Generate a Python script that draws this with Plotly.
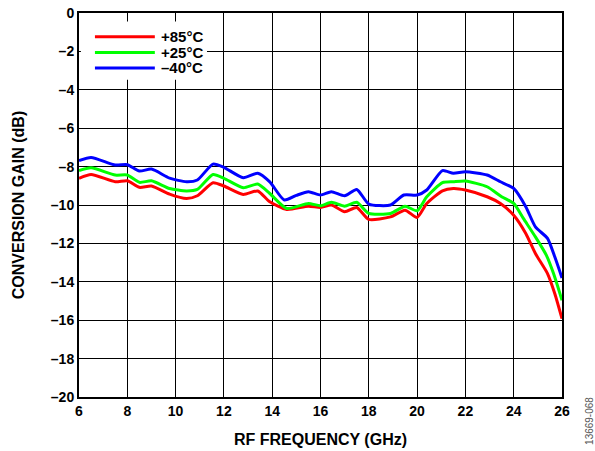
import plotly.graph_objects as go

freq_blue = [6, 6.5, 7.5, 8, 8.5, 9, 9.75, 10.45, 10.9, 11.55, 12, 12.8, 13.4, 13.9, 14.5, 15.0, 15.5, 16, 16.45, 17, 17.5, 18, 18.9, 19.45, 20, 20.4, 21.05, 21.5, 22, 22.9, 23.45, 24, 24.5, 24.9, 25.4, 25.7, 26]
gain_m40 = [-7.69, -7.52, -7.92, -7.9, -8.23, -8.13, -8.6, -8.79, -8.7, -7.87, -8.04, -8.58, -8.35, -8.8, -9.74, -9.5, -9.31, -9.48, -9.31, -9.52, -9.19, -9.95, -10.0, -9.48, -9.48, -9.22, -8.21, -8.35, -8.27, -8.44, -8.79, -9.14, -10.09, -11.14, -11.74, -12.7, -13.8]

freq_green = [6, 6.5, 7.5, 8, 8.5, 9, 9.75, 10.45, 10.9, 11.55, 12, 12.8, 13.4, 13.9, 14.6, 15.5, 16, 16.45, 17, 17.5, 18, 18.9, 19.5, 20, 20.4, 21.05, 21.5, 22, 22.9, 23.5, 24, 24.4, 24.9, 25.35, 25.65, 26]
gain_p25 = [-8.21, -8.06, -8.44, -8.44, -8.82, -8.74, -9.14, -9.27, -9.19, -8.41, -8.61, -9.1, -8.91, -9.4, -10.18, -9.92, -10.04, -9.86, -10.06, -9.86, -10.44, -10.44, -10.06, -10.3, -9.57, -8.84, -8.79, -8.75, -9.05, -9.57, -9.92, -10.7, -11.66, -12.61, -13.57, -14.96]

freq_red = [6, 6.5, 7.5, 8, 8.5, 9, 9.75, 10.45, 10.9, 11.55, 12, 12.8, 13.4, 13.9, 14.6, 15.5, 16, 16.45, 17, 17.5, 18, 18.9, 19.5, 20, 20.4, 21.05, 21.5, 22, 22.9, 23.45, 24, 24.5, 24.9, 25.4, 25.7, 26]
gain_p85 = [-8.61, -8.41, -8.79, -8.74, -9.08, -9.01, -9.43, -9.66, -9.52, -8.84, -9.01, -9.45, -9.27, -9.83, -10.23, -10.06, -10.13, -10.0, -10.35, -10.13, -10.75, -10.62, -10.27, -10.65, -9.92, -9.26, -9.14, -9.22, -9.57, -9.92, -10.53, -11.48, -12.53, -13.57, -14.61, -15.92]

series_names = ["+85°C", "+25°C", "\u201340°C"]
series_colors = ["#FF0000", "#00FF00", "#0000FF"]

x_ticks = [6, 8, 10, 12, 14, 16, 18, 20, 22, 24, 26]
y_ticks = [0, -2, -4, -6, -8, -10, -12, -14, -16, -18, -20]
y_ticktext = ["0"] + ["\u2013" + str(abs(v)) for v in y_ticks[1:]]

FONT = "Arial, Liberation Sans, sans-serif"

fig = go.Figure()
for name, xs, ys, col in zip(series_names, [freq_red, freq_green, freq_blue],
                             [gain_p85, gain_p25, gain_m40], series_colors):
    fig.add_trace(go.Scatter(x=xs, y=ys, name=name, mode="lines", showlegend=False,
                             hoverinfo="skip",
                             line=dict(color=col, width=3, shape="spline", smoothing=0.6)))

fig.update_layout(
    width=595, height=451,
    margin=dict(l=79, r=33, t=13, b=54),
    paper_bgcolor="white", plot_bgcolor="white",
    font=dict(family=FONT, size=14, color="black"),
    showlegend=False,
    xaxis=dict(range=[6, 26], tickvals=x_ticks, ticktext=[str(v) for v in x_ticks],
               showgrid=True, gridcolor="black", gridwidth=1.2,
               showline=True, linecolor="black", linewidth=2, mirror=True,
               ticks="", zeroline=False, automargin=False,
               tickfont=dict(family=FONT, size=14, color="black", weight="bold"),
               title=dict(text="RF FREQUENCY (GHz)", standoff=16,
                          font=dict(family=FONT, size=16, color="black", weight="bold"))),
    yaxis=dict(range=[-20, 0], tickvals=y_ticks, ticktext=y_ticktext,
               showgrid=True, gridcolor="black", gridwidth=1.2,
               showline=True, linecolor="black", linewidth=2, mirror=True,
               ticks="", zeroline=False, automargin=False,
               tickfont=dict(family=FONT, size=14, color="black", weight="bold"),
               title=dict(text="CONVERSION GAIN (dB)", standoff=22,
                          font=dict(family=FONT, size=16, color="black", weight="bold"))),
)

# legend box (manual, for tight row spacing like the reference)
fig.add_shape(type="rect", xref="paper", yref="paper", x0=0.004, x1=0.265, y0=0.826, y1=0.978,
              fillcolor="white", line=dict(width=0), layer="above")
legend_rows_y = [0.938, 0.897, 0.857]
for name, col, ly in zip(series_names, series_colors, legend_rows_y):
    fig.add_shape(type="line", xref="paper", yref="paper", x0=0.033, x1=0.157, y0=ly, y1=ly,
                  line=dict(color=col, width=3), layer="above")
    fig.add_annotation(text=name, xref="paper", yref="paper", x=0.165, y=ly,
                       xanchor="left", yanchor="middle", showarrow=False,
                       font=dict(family=FONT, size=15, color="black", weight="bold"))

fig.add_annotation(text="13669-068", xref="paper", yref="paper", x=1.058, y=-0.13,
                   xanchor="center", yanchor="bottom", textangle=-90, showarrow=False,
                   font=dict(family=FONT, size=10, color="#555555"))

fig.write_html("out.html", config={"displayModeBar": False},
               post_script="document.body.style.margin='0';document.body.style.padding='0';")
